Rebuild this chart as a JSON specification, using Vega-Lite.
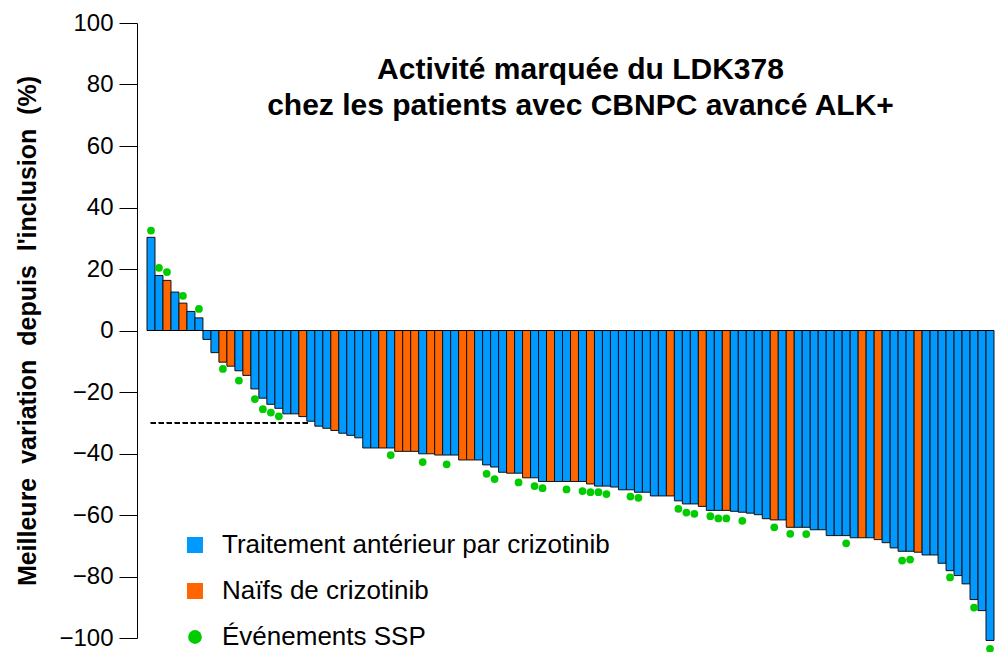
{
  "$schema": "https://vega.github.io/schema/vega-lite/v6.json",
  "width": 847,
  "height": 615,
  "autosize": {"type": "none"},
  "padding": {"left": 147, "top": 23, "right": 1, "bottom": 14},
  "background": "white",
  "config": {
    "view": {"stroke": null},
    "font": "Liberation Sans",
    "axisY": {
      "domainColor": "black", "domainWidth": 1, "tickColor": "black", "tickSize": 18, "tickWidth": 1,
      "labelFontSize": 24, "labelColor": "black", "labelPadding": 6, "labelFont": "Liberation Sans",
      "titleFontSize": 25, "titleFontWeight": "bold", "titleColor": "black", "titleFont": "Liberation Sans",
      "titlePadding": 18, "offset": 10, "grid": false
    },
    "legend": {
      "title": null, "orient": "none",
      "symbolStrokeWidth": 0,
      "labelFontSize": 26, "labelFont": "Liberation Sans", "labelColor": "black",
      "labelOffset": 14, "rowPadding": 20, "padding": 0, "labelLimit": 700
    }
  },
  "title": {
    "text": ["Activité marquée du LDK378", "chez les patients avec CBNPC avancé ALK+"],
    "fontSize": 30, "fontWeight": "bold", "font": "Liberation Sans", "color": "black",
    "anchor": "middle", "baseline": "top", "offset": -110, "dx": 10, "lineHeight": 36
  },
  "data": {
    "values": [
      {"i": 1, "v": 30.3, "g": "Traitement antérieur par crizotinib", "p": 32.5},
      {"i": 2, "v": 17.9, "g": "Traitement antérieur par crizotinib", "p": 20.4},
      {"i": 3, "v": 16.3, "g": "Naïfs de crizotinib", "p": 19.0},
      {"i": 4, "v": 12.5, "g": "Traitement antérieur par crizotinib"},
      {"i": 5, "v": 8.9, "g": "Naïfs de crizotinib", "p": 11.3},
      {"i": 6, "v": 6.2, "g": "Traitement antérieur par crizotinib"},
      {"i": 7, "v": 4.1, "g": "Traitement antérieur par crizotinib", "p": 7.0},
      {"i": 8, "v": -2.9, "g": "Traitement antérieur par crizotinib"},
      {"i": 9, "v": -7.2, "g": "Traitement antérieur par crizotinib"},
      {"i": 10, "v": -10.3, "g": "Naïfs de crizotinib", "p": -12.5},
      {"i": 11, "v": -11.6, "g": "Naïfs de crizotinib"},
      {"i": 12, "v": -13.1, "g": "Traitement antérieur par crizotinib", "p": -16.3},
      {"i": 13, "v": -14.6, "g": "Naïfs de crizotinib"},
      {"i": 14, "v": -19.0, "g": "Traitement antérieur par crizotinib", "p": -22.3},
      {"i": 15, "v": -22.0, "g": "Traitement antérieur par crizotinib", "p": -25.6},
      {"i": 16, "v": -24.0, "g": "Traitement antérieur par crizotinib", "p": -26.7},
      {"i": 17, "v": -25.3, "g": "Traitement antérieur par crizotinib", "p": -27.9},
      {"i": 18, "v": -27.1, "g": "Traitement antérieur par crizotinib"},
      {"i": 19, "v": -27.1, "g": "Traitement antérieur par crizotinib"},
      {"i": 20, "v": -28.0, "g": "Naïfs de crizotinib"},
      {"i": 21, "v": -29.5, "g": "Traitement antérieur par crizotinib"},
      {"i": 22, "v": -31.1, "g": "Traitement antérieur par crizotinib"},
      {"i": 23, "v": -31.8, "g": "Traitement antérieur par crizotinib"},
      {"i": 24, "v": -32.5, "g": "Naïfs de crizotinib"},
      {"i": 25, "v": -33.4, "g": "Traitement antérieur par crizotinib"},
      {"i": 26, "v": -34.1, "g": "Traitement antérieur par crizotinib"},
      {"i": 27, "v": -34.9, "g": "Traitement antérieur par crizotinib"},
      {"i": 28, "v": -38.2, "g": "Traitement antérieur par crizotinib"},
      {"i": 29, "v": -38.2, "g": "Traitement antérieur par crizotinib"},
      {"i": 30, "v": -38.2, "g": "Naïfs de crizotinib"},
      {"i": 31, "v": -38.2, "g": "Traitement antérieur par crizotinib", "p": -40.5},
      {"i": 32, "v": -39.3, "g": "Naïfs de crizotinib"},
      {"i": 33, "v": -39.3, "g": "Naïfs de crizotinib"},
      {"i": 34, "v": -39.3, "g": "Naïfs de crizotinib"},
      {"i": 35, "v": -40.1, "g": "Traitement antérieur par crizotinib", "p": -42.8},
      {"i": 36, "v": -40.1, "g": "Naïfs de crizotinib"},
      {"i": 37, "v": -40.5, "g": "Naïfs de crizotinib"},
      {"i": 38, "v": -40.5, "g": "Traitement antérieur par crizotinib", "p": -43.5},
      {"i": 39, "v": -40.5, "g": "Traitement antérieur par crizotinib"},
      {"i": 40, "v": -42.1, "g": "Naïfs de crizotinib"},
      {"i": 41, "v": -42.1, "g": "Naïfs de crizotinib"},
      {"i": 42, "v": -42.1, "g": "Traitement antérieur par crizotinib"},
      {"i": 43, "v": -43.7, "g": "Traitement antérieur par crizotinib", "p": -46.6},
      {"i": 44, "v": -44.4, "g": "Traitement antérieur par crizotinib", "p": -48.3},
      {"i": 45, "v": -46.1, "g": "Traitement antérieur par crizotinib"},
      {"i": 46, "v": -46.4, "g": "Naïfs de crizotinib"},
      {"i": 47, "v": -46.4, "g": "Traitement antérieur par crizotinib", "p": -49.4},
      {"i": 48, "v": -47.9, "g": "Naïfs de crizotinib"},
      {"i": 49, "v": -47.9, "g": "Traitement antérieur par crizotinib", "p": -50.6},
      {"i": 50, "v": -49.1, "g": "Traitement antérieur par crizotinib", "p": -51.3},
      {"i": 51, "v": -49.1, "g": "Naïfs de crizotinib"},
      {"i": 52, "v": -49.1, "g": "Traitement antérieur par crizotinib"},
      {"i": 53, "v": -49.1, "g": "Traitement antérieur par crizotinib", "p": -51.7},
      {"i": 54, "v": -49.1, "g": "Naïfs de crizotinib"},
      {"i": 55, "v": -49.1, "g": "Traitement antérieur par crizotinib", "p": -52.2},
      {"i": 56, "v": -49.9, "g": "Naïfs de crizotinib", "p": -52.6},
      {"i": 57, "v": -50.6, "g": "Traitement antérieur par crizotinib", "p": -52.6},
      {"i": 58, "v": -50.6, "g": "Traitement antérieur par crizotinib", "p": -53.2},
      {"i": 59, "v": -50.9, "g": "Traitement antérieur par crizotinib"},
      {"i": 60, "v": -51.8, "g": "Traitement antérieur par crizotinib"},
      {"i": 61, "v": -51.8, "g": "Traitement antérieur par crizotinib", "p": -54.0},
      {"i": 62, "v": -52.6, "g": "Traitement antérieur par crizotinib", "p": -54.4},
      {"i": 63, "v": -52.6, "g": "Traitement antérieur par crizotinib"},
      {"i": 64, "v": -53.8, "g": "Traitement antérieur par crizotinib"},
      {"i": 65, "v": -53.8, "g": "Traitement antérieur par crizotinib"},
      {"i": 66, "v": -53.8, "g": "Naïfs de crizotinib"},
      {"i": 67, "v": -55.4, "g": "Traitement antérieur par crizotinib", "p": -58.0},
      {"i": 68, "v": -56.4, "g": "Traitement antérieur par crizotinib", "p": -59.2},
      {"i": 69, "v": -56.4, "g": "Traitement antérieur par crizotinib", "p": -59.6},
      {"i": 70, "v": -57.2, "g": "Naïfs de crizotinib"},
      {"i": 71, "v": -58.5, "g": "Traitement antérieur par crizotinib", "p": -60.4},
      {"i": 72, "v": -58.5, "g": "Traitement antérieur par crizotinib", "p": -61.1},
      {"i": 73, "v": -58.5, "g": "Naïfs de crizotinib", "p": -61.1},
      {"i": 74, "v": -58.8, "g": "Traitement antérieur par crizotinib"},
      {"i": 75, "v": -59.1, "g": "Traitement antérieur par crizotinib", "p": -61.9},
      {"i": 76, "v": -59.4, "g": "Traitement antérieur par crizotinib"},
      {"i": 77, "v": -59.9, "g": "Traitement antérieur par crizotinib"},
      {"i": 78, "v": -61.2, "g": "Traitement antérieur par crizotinib"},
      {"i": 79, "v": -61.6, "g": "Naïfs de crizotinib", "p": -64.0},
      {"i": 80, "v": -61.6, "g": "Traitement antérieur par crizotinib"},
      {"i": 81, "v": -64.0, "g": "Naïfs de crizotinib", "p": -66.1},
      {"i": 82, "v": -64.0, "g": "Traitement antérieur par crizotinib"},
      {"i": 83, "v": -64.0, "g": "Traitement antérieur par crizotinib", "p": -66.2},
      {"i": 84, "v": -64.8, "g": "Traitement antérieur par crizotinib"},
      {"i": 85, "v": -64.8, "g": "Traitement antérieur par crizotinib"},
      {"i": 86, "v": -66.7, "g": "Traitement antérieur par crizotinib"},
      {"i": 87, "v": -66.7, "g": "Traitement antérieur par crizotinib"},
      {"i": 88, "v": -66.7, "g": "Traitement antérieur par crizotinib", "p": -69.2},
      {"i": 89, "v": -67.4, "g": "Traitement antérieur par crizotinib"},
      {"i": 90, "v": -67.4, "g": "Naïfs de crizotinib"},
      {"i": 91, "v": -67.4, "g": "Traitement antérieur par crizotinib"},
      {"i": 92, "v": -68.0, "g": "Naïfs de crizotinib"},
      {"i": 93, "v": -69.0, "g": "Traitement antérieur par crizotinib"},
      {"i": 94, "v": -70.7, "g": "Traitement antérieur par crizotinib"},
      {"i": 95, "v": -71.8, "g": "Traitement antérieur par crizotinib", "p": -74.8},
      {"i": 96, "v": -71.8, "g": "Traitement antérieur par crizotinib", "p": -74.5},
      {"i": 97, "v": -72.1, "g": "Naïfs de crizotinib"},
      {"i": 98, "v": -73.0, "g": "Traitement antérieur par crizotinib"},
      {"i": 99, "v": -73.0, "g": "Traitement antérieur par crizotinib"},
      {"i": 100, "v": -75.7, "g": "Traitement antérieur par crizotinib"},
      {"i": 101, "v": -78.1, "g": "Traitement antérieur par crizotinib", "p": -80.3},
      {"i": 102, "v": -79.7, "g": "Traitement antérieur par crizotinib"},
      {"i": 103, "v": -82.4, "g": "Traitement antérieur par crizotinib"},
      {"i": 104, "v": -87.5, "g": "Traitement antérieur par crizotinib", "p": -90.1},
      {"i": 105, "v": -91.1, "g": "Traitement antérieur par crizotinib"},
      {"i": 106, "v": -100.8, "g": "Traitement antérieur par crizotinib", "p": -103.5}
    ]
  },
  "layer": [
    {
      "mark": {"type": "bar", "stroke": "#111111", "strokeWidth": 1},
      "encoding": {
        "x": {"field": "i", "type": "ordinal", "axis": null, "scale": {"paddingInner": 0, "paddingOuter": 0}},
        "y": {
          "field": "v", "type": "quantitative",
          "scale": {"domain": [-100, 100], "nice": false},
          "axis": {"values": [-100, -80, -60, -40, -20, 0, 20, 40, 60, 80, 100]},
          "title": "Meilleure\u00a0 variation\u00a0 depuis\u00a0 l'inclusion\u00a0 (%)"
        },
        "color": {
          "field": "g", "type": "nominal",
          "scale": {"domain": ["Traitement antérieur par crizotinib", "Naïfs de crizotinib"], "range": ["#0099ff", "#ff6600"]},
          "legend": {"orient": "none", "legendX": 35, "legendY": 509, "symbolType": "square", "symbolSize": 256}
        }
      }
    },
    {
      "mark": {"type": "rule", "color": "black", "strokeWidth": 1},
      "encoding": {"y": {"datum": 0}}
    },
    {
      "mark": {"type": "rule", "color": "black", "strokeWidth": 1, "strokeDash": [5, 3]},
      "encoding": {
        "y": {"datum": -30},
        "x": {"datum": 1, "type": "ordinal", "axis": null},
        "x2": {"datum": 21}
      }
    },
    {
      "transform": [{"filter": "isValid(datum.p)"}],
      "mark": {"type": "point", "filled": true, "size": 60, "opacity": 1, "color": "#00cc00"},
      "encoding": {
        "x": {"field": "i", "type": "ordinal", "axis": null},
        "y": {"field": "p", "type": "quantitative", "title": "Meilleure\u00a0 variation\u00a0 depuis\u00a0 l'inclusion\u00a0 (%)"},
        "shape": {
          "datum": "Événements SSP", "type": "nominal",
          "scale": {"domain": ["Événements SSP"], "range": ["circle"]},
          "legend": {"orient": "none", "legendX": 35, "legendY": 601, "symbolSize": 190, "symbolFillColor": "#00cc00", "symbolOpacity": 1}
        }
      }
    }
  ]
}
